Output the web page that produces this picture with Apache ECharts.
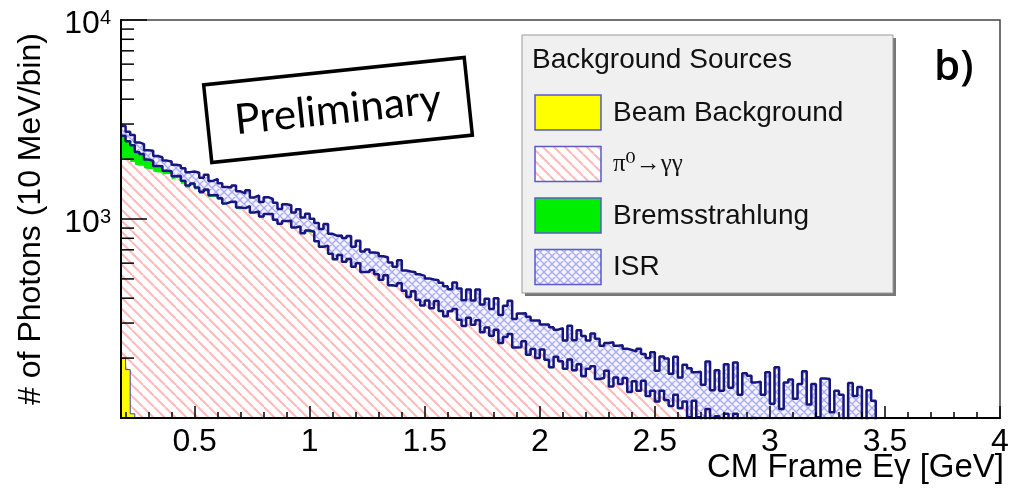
<!DOCTYPE html>
<html>
<head>
<meta charset="utf-8">
<script src="https://cdn.jsdelivr.net/npm/echarts@6/dist/echarts.min.js"></script>
<style>
  html, body { margin: 0; padding: 0; background: #fff; }
  #chart { width: 1013px; height: 493px; }
</style>
</head>
<body>
<div id="chart"></div>
<script>
// histogram binning (GeV)
const binLow = 0.18
const binWidth = 0.02
const xMin = 0.18
const xMax = 4
const yMin = 100
const yMax = 10000

// photons per bin
const beamBg = [200, 175, 105, 1]
const pi0 = [
  1830, 1810, 1830, 1879, 1849, 1804, 1784, 1734, 1714, 1674,
  1685, 1580, 1602, 1505, 1435, 1472, 1406, 1334, 1375, 1287,
  1295, 1248, 1176, 1198, 1201, 1123, 1116, 1141, 1062, 1076,
  1014, 1047, 1048, 978, 934, 967, 969, 897, 909, 840,
  868, 855, 767, 718, 727, 663, 621, 653, 605, 624,
  571, 594, 536, 537, 551, 523, 491, 517, 461, 458,
  472, 433, 403, 430, 389, 365, 386, 353, 384, 342,
  322, 341, 350, 309, 287, 316, 292, 308, 268, 283,
  257, 276, 236, 253, 262, 224, 225, 241, 206, 220,
  198, 219, 194, 178, 201, 191, 175, 195, 172, 184,
  161, 176, 181, 156, 158, 172, 143, 159, 147, 158,
  134, 152, 136, 153, 128, 136, 120, 136, 122, 114,
  130, 111, 120, 100, 121, 100, 90, 110, 90, 101,
  84, 104, 82, 104, 76, 90, 70, 99, 71, 73,
  84, 65, 87, 59, 71, 59, 74, 57, 67, 55,
  59, 49, 58, 46, 52, 41, 50, 42, 45, 38,
  41, 34, 37, 31, 32, 27
]
const brems = [
  590, 475, 415, 290, 270, 185, 175, 115, 125, 75,
  55, 60, 48, 50, 40, 38, 34, 36, 30, 28,
  26, 25, 22, 24, 20, 19, 18, 18, 16, 15,
  14, 14, 13, 12, 12, 11, 10, 10, 9, 9,
  8, 8, 7, 7, 7, 6, 6, 6, 5, 5,
  5, 5, 5, 4, 4, 4, 4, 4, 3, 3,
  3, 3, 3, 3, 3, 3, 3, 3, 3, 3,
  3, 3, 3, 3, 3, 3, 2, 2, 2, 2,
  2, 2, 2, 2, 2, 2, 2, 2, 2, 2,
  2, 2, 2, 2, 2, 2, 2, 2, 2, 2,
  1, 1, 1, 1, 1, 1, 1, 1, 1, 1,
  1, 1, 1, 1, 1, 1, 1, 1, 1, 1,
  1, 1, 1, 1, 1, 1, 1, 1, 1, 1,
  1, 1, 1, 1, 1, 1, 1, 1, 1, 1,
  1, 1, 1, 1, 1, 1, 1, 1, 1, 1,
  1, 1, 1, 1, 1, 1, 1, 1, 1, 1,
  1, 1, 1, 1, 1, 1
]
const isr = [
  315, 281, 292, 255, 260, 226, 246, 222, 204, 216,
  206, 233, 207, 242, 245, 223, 267, 243, 265, 238,
  268, 238, 252, 218, 254, 235, 212, 237, 206, 221,
  191, 226, 199, 217, 176, 209, 194, 172, 202, 168,
  187, 141, 180, 166, 211, 173, 196, 167, 192, 192,
  149, 179, 145, 162, 124, 147, 155, 122, 141, 114,
  146, 115, 139, 107, 135, 150, 114, 141, 105, 133,
  134, 99, 126, 135, 101, 123, 95, 132, 102, 112,
  94, 122, 91, 111, 124, 88, 108, 93, 115, 87,
  109, 74, 99, 106, 75, 90, 68, 94, 72, 90,
  96, 68, 84, 93, 72, 65, 96, 71, 84, 64,
  85, 63, 86, 56, 71, 77, 52, 67, 76, 52,
  72, 48, 64, 77, 48, 70, 56, 81, 47, 72,
  52, 81, 59, 85, 54, 77, 92, 51, 80, 57,
  85, 52, 92, 51, 79, 96, 50, 90, 104, 61,
  88, 51, 99, 110, 54, 95, 80, 47, 104, 90,
  101, 61, 100, 90, 50, 28
]

const yMinorTicks = [200, 300, 400, 500, 600, 700, 800, 900, 2000, 3000, 4000, 5000, 6000, 7000, 8000, 9000]
const yLabelPowers = { 3: '3', 4: '4' }

const legendTitle = 'Background Sources'
const legendNames = ['Beam Background', 'π⁰→γγ', 'Bremsstrahlung', 'ISR']

const font = '"Liberation Sans", Arial, sans-serif'
const navy = '#16167e'

// [count, binLeftEdge] pairs + closing edge; count first so the stack sums counts, not x
function toSteps(values) {
  const pts = values.map((v, i) => [v, +(binLow + i * binWidth).toFixed(2)])
  pts.push([values[values.length - 1], +(binLow + values.length * binWidth).toFixed(2)])
  return pts
}

function hatchTile(size, color, width, cross, bg) {
  const c = document.createElement('canvas')
  c.width = size
  c.height = size
  const ctx = c.getContext('2d')
  ctx.fillStyle = bg
  ctx.fillRect(0, 0, size, size)
  ctx.strokeStyle = color
  ctx.lineWidth = width
  ctx.beginPath()
  for (const k of [-size, 0, size]) {
    ctx.moveTo(k, 0)
    ctx.lineTo(k + size, size)
    if (cross) {
      ctx.moveTo(k + size, 0)
      ctx.lineTo(k, size)
    }
  }
  ctx.stroke()
  return c
}

const pinkHatch = { image: hatchTile(11, '#ffb8b8', 2, false, '#ffffff'), repeat: 'repeat' }
const blueHatch = { image: hatchTile(8, '#a8a8f4', 1.3, true, '#f4f4ff'), repeat: 'repeat' }
const swatchFills = ['#ffff00', pinkHatch, '#00ee00', blueHatch]

const chart = echarts.init(document.getElementById('chart'))

const legendX = 522
const legendY = 35
const legendGraphics = [
  { type: 'rect', shape: { x: legendX + 3, y: legendY + 3, width: 371, height: 258 }, style: { fill: '#777' }, z: 20 },
  { type: 'rect', shape: { x: legendX, y: legendY, width: 371, height: 258 }, style: { fill: '#f0f0f0', stroke: '#999', lineWidth: 1 }, z: 21 },
  { type: 'text', x: legendX + 10, y: legendY + 25, style: { text: legendTitle, font: '28px ' + font, fill: '#111', textAlign: 'left', textVerticalAlign: 'middle' }, z: 22 }
]
legendNames.forEach((name, i) => {
  const top = legendY + 60 + i * 51.5
  legendGraphics.push({
    type: 'rect', shape: { x: legendX + 13, y: top, width: 66, height: 35 },
    style: { fill: swatchFills[i], stroke: '#5a5ac8', lineWidth: 1.5 }, z: 22
  })
  legendGraphics.push({
    type: 'text', x: legendX + 91, y: top + 18,
    style: {
      text: name,
      font: i === 1 ? '25px "Liberation Serif", "DejaVu Serif", serif' : '28px ' + font,
      fill: '#111', textAlign: 'left', textVerticalAlign: 'middle'
    },
    z: 22
  })
})

function histSeries(idx, values, z, line, fill) {
  return {
    name: legendNames[idx],
    type: 'line',
    stack: 'bg',
    step: 'end',
    symbol: 'none',
    z: z,
    encode: { x: 1, y: 0 },
    data: toSteps(values),
    lineStyle: line,
    itemStyle: { color: typeof fill === 'string' ? fill : '#a8a8f4' },
    areaStyle: { color: fill, opacity: 1 }
  }
}

chart.setOption({
  animation: false,
  backgroundColor: '#fff',
  grid: {
    left: 121,
    right: 13,
    top: 20,
    bottom: 75,
    show: true,
    borderColor: '#444',
    borderWidth: 1.5
  },
  xAxis: {
    type: 'value',
    min: xMin,
    max: xMax,
    splitNumber: 8,
    z: 10,
    axisLine: { lineStyle: { color: '#000', width: 2 } },
    axisTick: { inside: true, length: 12, lineStyle: { color: '#000', width: 1.5 } },
    minorTick: { show: true, splitNumber: 5, length: 6, lineStyle: { color: '#000', width: 1.5 } },
    splitLine: { show: false },
    minorSplitLine: { show: false },
    axisLabel: { showMinLabel: false, margin: 8, fontSize: 32, color: '#000', fontFamily: font },
    name: 'CM Frame Eγ [GeV]',
    nameLocation: 'end',
    nameGap: 4,
    nameMoveOverlap: false,
    nameTextStyle: { align: 'right', verticalAlign: 'top', padding: [33, 0, 0, 0], fontSize: 33, color: '#000', fontFamily: font }
  },
  yAxis: {
    type: 'log',
    logBase: 10,
    min: yMin,
    max: yMax,
    z: 10,
    axisLine: { show: true, lineStyle: { color: '#000', width: 2 } },
    axisTick: { show: true, inside: true, length: 26, lineStyle: { color: '#000', width: 1.5 } },
    splitLine: { show: false },
    axisLabel: {
      margin: 10,
      padding: [8, 0, 0, 0],
      formatter: (v) => {
        const p = Math.round(Math.log10(v))
        return yLabelPowers[p] ? '{b|10}{s|' + yLabelPowers[p] + '}' : ''
      },
      rich: {
        b: { fontSize: 32, lineHeight: 32, fontFamily: font, color: '#000', verticalAlign: 'bottom' },
        s: { fontSize: 20, lineHeight: 20, fontFamily: font, color: '#000', verticalAlign: 'top' }
      }
    },
    name: '# of Photons (10 MeV/bin)',
    nameLocation: 'middle',
    nameRotate: 90,
    nameGap: 74,
    nameTextStyle: { fontSize: 32, color: '#000', fontFamily: font }
  },
  graphic: [
    ...legendGraphics,
    {
      type: 'text', x: 934, y: 68,
      style: { text: 'b)', font: '600 42px "Open Sans", sans-serif', fill: '#000', textAlign: 'left', textVerticalAlign: 'middle' },
      z: 22
    },
    {
      type: 'group', x: 338, y: 110, rotation: 6 * Math.PI / 180, z: 22,
      children: [
        { type: 'rect', shape: { x: -131, y: -39, width: 262, height: 78 }, style: { fill: '#fff', stroke: '#000', lineWidth: 3.5 } },
        { type: 'text', x: 0, y: 0, style: { text: 'Preliminary', font: '42px Lato, sans-serif', fill: '#000', textAlign: 'center', textVerticalAlign: 'middle' } }
      ]
    }
  ],
  series: [
    histSeries(0, beamBg, 3, { color: '#3c3cc8', width: 1 }, '#ffff00'),
    histSeries(1, pi0, 2, { opacity: 0 }, pinkHatch),
    histSeries(2, brems, 3, { color: navy, width: 2.5 }, '#00ee00'),
    histSeries(3, isr, 2, { color: navy, width: 2.5 }, blueHatch),
    {
      type: 'custom', silent: true, clip: false, z: 10,
      data: yMinorTicks.map(v => [xMin, v]),
      renderItem: (params, api) => {
        const p = api.coord([api.value(0), api.value(1)])
        return {
          type: 'line',
          shape: { x1: p[0], y1: p[1], x2: p[0] + 13, y2: p[1] },
          style: { stroke: '#000', lineWidth: 1.5 }
        }
      }
    }
  ]
})
</script>
</body>
</html>
